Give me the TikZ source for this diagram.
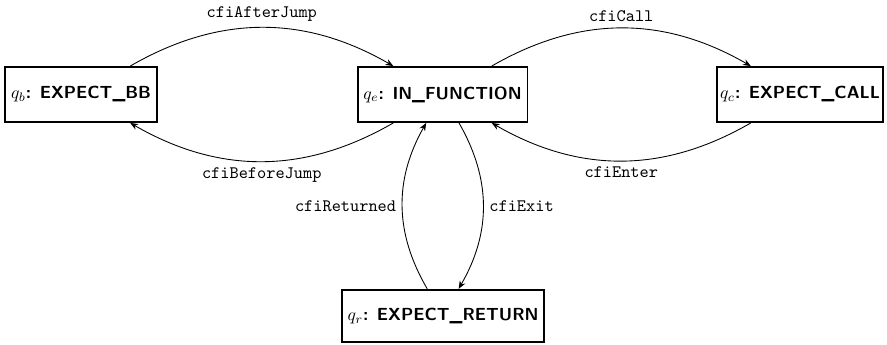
\documentclass[tikz,border=0pt]{standalone}
\usetikzlibrary{arrows.meta}
\begin{document}
\begin{tikzpicture}[x=0.5714pt,y=-0.5714pt,
  state/.style={draw,line width=1.1pt,minimum height=31.4pt,inner sep=0pt,font=\sffamily\bfseries},
  trans/.style={-{Stealth[length=4.5pt,width=3.6pt]},line width=0.5pt},
  lbl/.style={font=\ttfamily}]
\useasboundingbox (0,0) rectangle (887,344);
\node[state,minimum width=86.9pt] (b) at (81,94.5) {$q_b$: EXPECT\_BB};
\node[state,minimum width=97.1pt] (e) at (442.5,94.5) {$q_e$: IN\_FUNCTION};
\node[state,minimum width=94.9pt] (c) at (800,94.5) {$q_c$: EXPECT\_CALL};
\node[state,minimum width=115.4pt,minimum height=30pt] (r) at (443,316) {$q_r$: EXPECT\_RETURN};
\draw[trans] (b) to[bend left=30] node[lbl,above] {cfiAfterJump} (e);
\draw[trans] (e) to[bend left=30] node[lbl,above] {cfiCall} (c);
\draw[trans] (e) to[bend left=30] node[lbl,below] {cfiBeforeJump} (b);
\draw[trans] (c) to[bend left=30] node[lbl,below] {cfiEnter} (e);
\draw[trans] (e) to[bend left=30] node[lbl,right] {cfiExit} (r);
\draw[trans] (r) to[bend left=30] node[lbl,left] {cfiReturned} (e);
\end{tikzpicture}
\end{document}
